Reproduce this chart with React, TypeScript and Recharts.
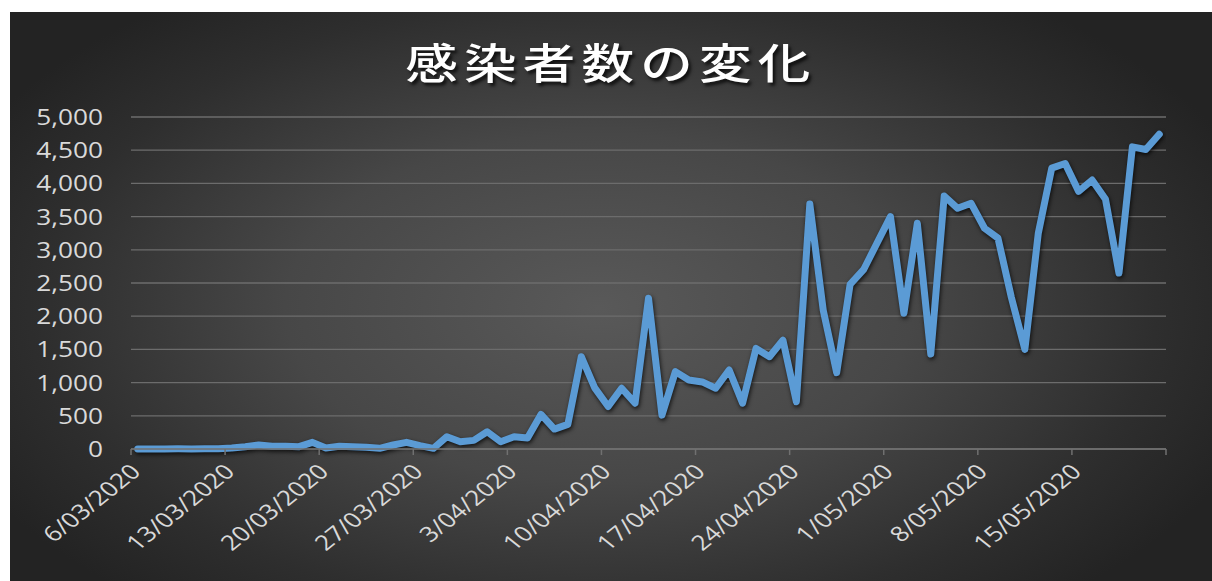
import React from "react";
import { LineChart, Line, XAxis, YAxis, CartesianGrid } from "recharts";

const title = "感染者数の変化";

const days: string[] = [
  "6/03/2020", "7/03/2020", "8/03/2020", "9/03/2020", "10/03/2020", "11/03/2020", "12/03/2020",
  "13/03/2020", "14/03/2020", "15/03/2020", "16/03/2020", "17/03/2020", "18/03/2020", "19/03/2020",
  "20/03/2020", "21/03/2020", "22/03/2020", "23/03/2020", "24/03/2020", "25/03/2020", "26/03/2020",
  "27/03/2020", "28/03/2020", "29/03/2020", "30/03/2020", "31/03/2020", "1/04/2020", "2/04/2020",
  "3/04/2020", "4/04/2020", "5/04/2020", "6/04/2020", "7/04/2020", "8/04/2020", "9/04/2020",
  "10/04/2020", "11/04/2020", "12/04/2020", "13/04/2020", "14/04/2020", "15/04/2020", "16/04/2020",
  "17/04/2020", "18/04/2020", "19/04/2020", "20/04/2020", "21/04/2020", "22/04/2020", "23/04/2020",
  "24/04/2020", "25/04/2020", "26/04/2020", "27/04/2020", "28/04/2020", "29/04/2020", "30/04/2020",
  "1/05/2020", "2/05/2020", "3/05/2020", "4/05/2020", "5/05/2020", "6/05/2020", "7/05/2020",
  "8/05/2020", "9/05/2020", "10/05/2020", "11/05/2020", "12/05/2020", "13/05/2020", "14/05/2020",
  "15/05/2020", "16/05/2020", "17/05/2020", "18/05/2020", "19/05/2020", "20/05/2020", "21/05/2020",
];

const cases: number[] = [
  0, 1, 0, 2, 0, 3, 5,
  15, 35, 60, 40, 40, 35, 100,
  15, 40, 35, 25, 10, 60, 100,
  50, 10, 185, 110, 130, 260, 110,
  185, 165, 520, 300, 370, 1390, 920,
  640, 915, 690, 2270, 510, 1165, 1040,
  1010, 915, 1190, 690, 1515, 1390, 1640,
  712, 3690, 2090, 1150, 2480, 2700, 3100,
  3500, 2045, 3400, 1430, 3810, 3625, 3700,
  3325, 3175, 2280, 1500, 3250, 4230, 4300,
  3880, 4050, 3760, 2650, 4550, 4510, 4740,
];

const tickLabels: string[] = [
  "6/03/2020", "13/03/2020", "20/03/2020", "27/03/2020", "3/04/2020", "10/04/2020",
  "17/04/2020", "24/04/2020", "1/05/2020", "8/05/2020", "15/05/2020",
];

const yTicks: number[] = [0, 500, 1000, 1500, 2000, 2500, 3000, 3500, 4000, 4500, 5000];

const data = days.map((d, i) => ({ idx: i, date: d, value: cases[i] }));

// tick marks sit on day boundaries (Excel "between tick marks")
const xTicks: number[] = [
  ...tickLabels.map((l) => days.indexOf(l) - 0.5),
  days.length - 0.5,
];

const labelFor = (v: number) => {
  const k = tickLabels.findIndex((l) => days.indexOf(l) - 0.5 === v);
  return k >= 0 ? tickLabels[k] : "";
};

const STRETCH = 1.25;
const TICK_FONT = "'Open Sans', 'DejaVu Sans', sans-serif";
const TEXT_COLOR = "#d9d9d9";

const YTick = (props: any) => {
  const { x, y, payload } = props;
  return (
    <text
      transform={`translate(${x},${y}) scale(${STRETCH},1)`}
      textAnchor="end"
      dominantBaseline="central"
      fill={TEXT_COLOR}
      fontSize={21}
      fontFamily={TICK_FONT}
    >
      {Number(payload.value).toLocaleString("en-US")}
    </text>
  );
};

const XTick = (props: any) => {
  const { x, y, payload } = props;
  const label = labelFor(payload.value);
  if (!label) return null;
  return (
    <text
      transform={`translate(${x + 11},${y + 16}) scale(${STRETCH},1) rotate(-45)`}
      textAnchor="end"
      fill={TEXT_COLOR}
      fontSize={21}
      fontFamily={TICK_FONT}
    >
      {label}
    </text>
  );
};

export default function App() {
  return (
    <div style={{ position: "relative", width: 1212, height: 581, background: "#ffffff", overflow: "hidden" }}>
      <style>{`body{margin:0}.recharts-line-curve{filter:drop-shadow(1px 2px 2px rgba(0,0,0,0.75));}`}</style>
      <div
        style={{
          position: "absolute",
          left: 10,
          top: 12,
          right: 0,
          bottom: 0,
          background:
            "radial-gradient(ellipse 58% 68% at 49% 52%, #595959 0%, #474747 45%, #2e2e2e 80%, #232323 100%)",
        }}
      />
      <div
        style={{
          position: "absolute",
          left: 10,
          right: 0,
          top: 37,
          textAlign: "center",
          color: "#ffffff",
          fontFamily: "'Noto Sans CJK JP', sans-serif",
          fontWeight: 500,
          fontSize: 42,
          lineHeight: "48px",
          letterSpacing: "5px",
          transform: `scaleX(${STRETCH})`,
          transformOrigin: "center",
          textShadow: "2px 3px 3px rgba(0,0,0,0.75)",
        }}
      >
        {title}
      </div>
      <div style={{ position: "absolute", left: 0, top: 0 }}>
        <LineChart
          width={1212}
          height={581}
          data={data}
          margin={{ top: 117, right: 46, bottom: 0, left: 10 }}
        >
          <CartesianGrid vertical={false} stroke="#6c6c6c" strokeWidth={1.3} />
          <XAxis
            type="number"
            dataKey="idx"
            domain={[-0.5, days.length - 0.5]}
            ticks={xTicks}
            interval={0}
            allowDataOverflow
            height={132}
            tickSize={6}
            tickMargin={2}
            axisLine={{ stroke: "#707070", strokeWidth: 1.5 }}
            tickLine={{ stroke: "#707070", strokeWidth: 1.5 }}
            tick={<XTick />}
          />
          <YAxis
            type="number"
            domain={[0, 5000]}
            ticks={yTicks}
            interval={0}
            width={121}
            axisLine={false}
            tickLine={false}
            tickSize={0}
            tickMargin={28}
            tick={<YTick />}
          />
          <Line
            type="linear"
            dataKey="value"
            stroke="#5b9bd5"
            strokeWidth={7}
            strokeLinejoin="round"
            strokeLinecap="round"
            dot={false}
            activeDot={false}
            isAnimationActive={false}
          />
        </LineChart>
      </div>
    </div>
  );
}
